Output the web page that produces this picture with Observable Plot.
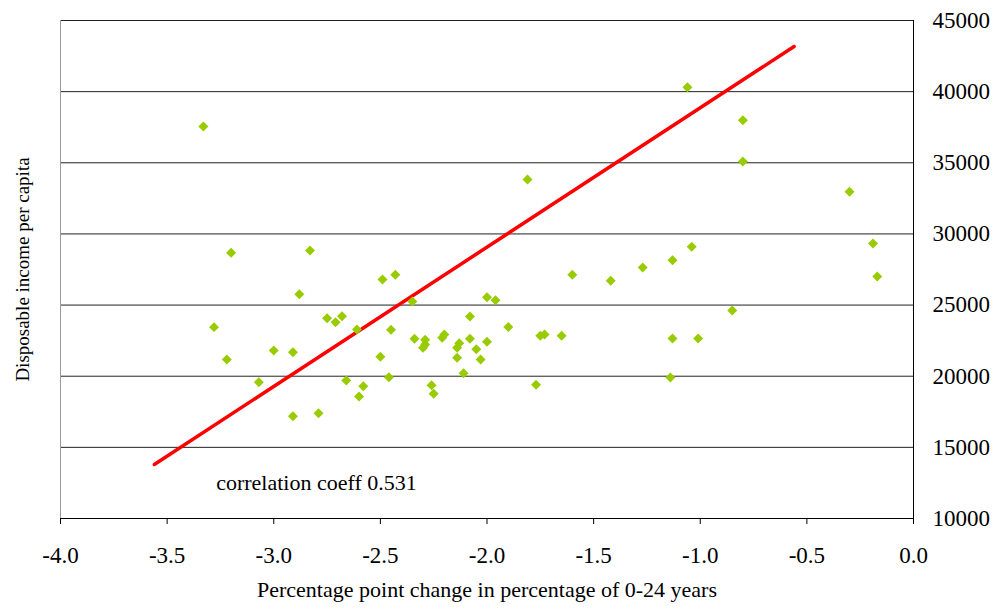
<!DOCTYPE html>
<html><head><meta charset="utf-8">
<script src="https://cdn.jsdelivr.net/npm/d3@7"></script>
<script src="https://cdn.jsdelivr.net/npm/@observablehq/plot@0.6"></script>
<style>body{margin:0;background:#fff;} svg text{font-family:'Liberation Serif','Times New Roman',serif;}</style>
</head><body><div id="chart"></div>
<script>
// Percentage point change in percentage of 0-24 years
const xValues = [
  -3.33, -3.28, -3.20, -3.22, -3.07, -3.00, -2.91, -2.91, -2.83, -2.88,
  -2.79, -2.75, -2.71, -2.68, -2.66, -2.61, -2.58, -2.60, -2.49, -2.43,
  -2.50, -2.45, -2.46, -2.35, -2.34, -2.29, -2.29, -2.30, -2.21, -2.20,
  -2.26, -2.25, -2.08, -2.13, -2.14, -2.14, -2.08, -2.05, -2.03, -2.11,
  -2.00, -1.96, -2.00, -1.90, -1.81, -1.75, -1.73, -1.65, -1.77, -1.60,
  -1.42, -1.27, -1.13, -1.04, -1.13, -1.01, -0.85, -1.14, -1.06, -0.80,
  -0.80, -0.30, -0.19, -0.17
];
// Disposable income per capita
const yValues = [
  37550, 23450, 28670, 21180, 19580, 21810, 21690, 17190, 28840, 25760,
  17400, 24080, 23800, 24220, 19700, 23280, 19300, 18580, 26800, 27130,
  21370, 23260, 19930, 25250, 22630, 22560, 22230, 22000, 22700, 22930,
  19370, 18760, 24200, 22320, 22000, 21290, 22630, 21900, 21180, 20210,
  25550, 25340, 22420, 23460, 33830, 22840, 22930, 22840, 19400, 27130,
  26710, 27640, 28150, 29100, 22650, 22650, 24620, 19910, 40310, 37990,
  35090, 32960, 29330, 27010
];
// Trend line end points
const lineX = [-3.56, -0.56];
const lineY = [13800, 43170];

const xTicks = [-4.0, -3.5, -3.0, -2.5, -2.0, -1.5, -1.0, -0.5, 0.0];
const yTicks = [10000, 15000, 20000, 25000, 30000, 35000, 40000, 45000];

const xLabel = "Percentage point change in percentage of 0-24 years";
const yLabel = "Disposable income per capita";
const annotation = "correlation coeff 0.531";

const points = xValues.map((x, i) => ({x, y: yValues[i]}));
const trend = lineX.map((x, i) => ({x, y: lineY[i]}));
const serif = "'Liberation Serif', 'Times New Roman', serif";

const chart = Plot.plot({
  width: 996, height: 612,
  marginLeft: 60, marginRight: 83, marginTop: 20, marginBottom: 94,
  style: {fontFamily: serif, background: "#fff", color: "#000"},
  x: {domain: [-4, 0]},
  y: {domain: [10000, 45000]},
  marks: [
    Plot.ruleY(yTicks.filter(v => v > 10000), {y: d => d, stroke: "#222", strokeWidth: 1}),
    Plot.ruleX([-4], {stroke: "#999", strokeWidth: 1}),
    Plot.ruleX([0], {stroke: "#000", strokeWidth: 1}),
    Plot.ruleY([10000], {stroke: "#000", strokeWidth: 1}),
    Plot.axisX({ticks: xTicks, tickFormat: d => d.toFixed(1), tickSize: 6, tickPadding: 22, fontSize: 23, fontFamily: serif, label: null, stroke: "#000"}),
    Plot.axisY({anchor: "right", ticks: yTicks, tickFormat: d => String(d), tickSize: 0, tickPadding: 19, fontSize: 23, fontFamily: serif, label: null}),
    Plot.line(trend, {x: "x", y: "y", stroke: "#ff0000", strokeWidth: 3.5}),
    Plot.dot(points, {x: "x", y: "y", symbol: "diamond2", r: 4.5, fill: "#99cc00", stroke: "none"}),
    Plot.text([annotation], {x: -3.27, y: 12530, text: d => d, textAnchor: "start", fontSize: 22, fontFamily: serif, fill: "#000"}),
    Plot.text([xLabel], {frameAnchor: "bottom", dy: 78, text: d => d, fontSize: 22, fontFamily: serif, fill: "#000"}),
    Plot.text([yLabel], {frameAnchor: "left", dx: -38, rotate: -90, textAnchor: "middle", text: d => d, fontSize: 19, fontFamily: serif, fill: "#000"})
  ]
});
document.getElementById("chart").appendChild(chart);
</script>
</body></html>
